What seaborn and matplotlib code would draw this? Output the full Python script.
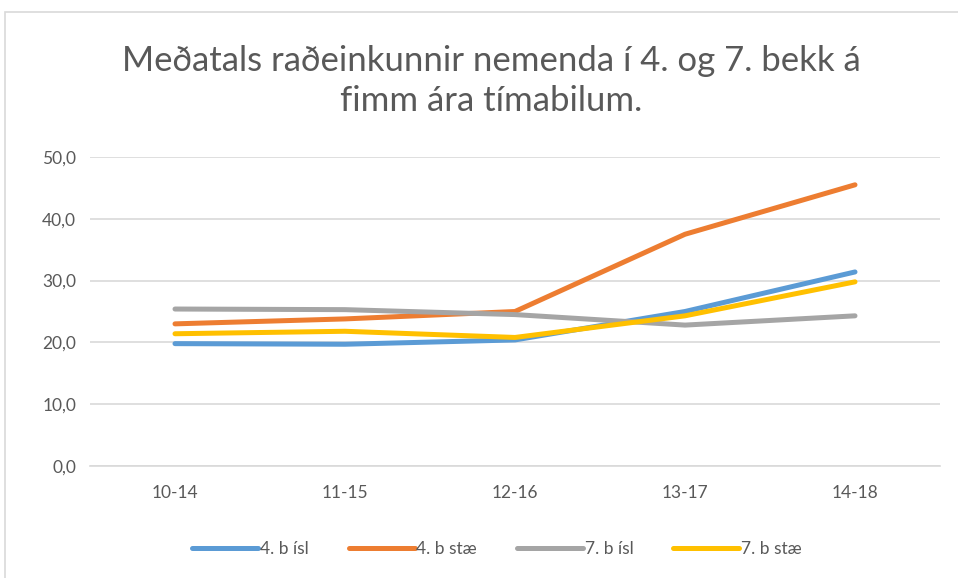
import numpy as np
import pandas as pd
import matplotlib
matplotlib.use("Agg")
import matplotlib.pyplot as plt
from matplotlib.patches import Rectangle
from matplotlib.ticker import FuncFormatter, MultipleLocator
import seaborn as sns

# data
periods = ["10-14", "11-15", "12-16", "13-17", "14-18"]
isl_4 = [19.8, 19.7, 20.4, 25.0, 31.4]
stae_4 = [23.0, 23.8, 25.0, 37.5, 45.5]
isl_7 = [25.4, 25.3, 24.5, 22.8, 24.3]
stae_7 = [21.4, 21.8, 20.8, 24.3, 29.8]
series_names = ["4. b ísl", "4. b stæ", "7. b ísl", "7. b stæ"]
colors = ["#5B9BD5", "#ED7D31", "#A5A5A5", "#FFC000"]

rows = []
for name, vals in zip(series_names, [isl_4, stae_4, isl_7, stae_7]):
    for p, v in zip(periods, vals):
        rows.append({"Tímabil": p, "Einkunn": v, "Hópur": name})
df = pd.DataFrame(rows)

sns.set_style("white")
plt.rcParams["font.family"] = ["Lato", "DejaVu Sans"]
txt = "#595959"

fig = plt.figure(figsize=(9.58, 5.78), dpi=100)
ax = fig.add_axes([90 / 958, 1 - 466 / 578, 850 / 958, 309 / 578])

# chart border like the spreadsheet chart frame
fig.patches.append(Rectangle((5 / 958, -0.05), 1.0, 1 - 12 / 578 + 0.05,
                             transform=fig.transFigure, fill=False,
                             edgecolor="#D9D9D9", linewidth=1.2))

sns.lineplot(data=df, x="Tímabil", y="Einkunn", hue="Hópur", palette=colors,
             linewidth=3.6, sort=False, ax=ax, legend=False,
             solid_capstyle="round")

ax.set_xlim(-0.5, 4.5)
ax.set_ylim(0, 50)
ax.yaxis.set_major_locator(MultipleLocator(10))
ax.yaxis.set_major_formatter(FuncFormatter(lambda v, _: f"{v:.1f}".replace(".", ",")))
ax.grid(axis="y", color="#D9D9D9", linewidth=1.2)
ax.set_axisbelow(True)
for s in ["top", "right", "left"]:
    ax.spines[s].set_visible(False)
ax.spines["bottom"].set_color("#D9D9D9")
ax.spines["bottom"].set_linewidth(1.2)
ax.tick_params(length=0, labelsize=12.5, colors=txt, pad=10)
ax.tick_params(axis="x", pad=14)
ax.set_xlabel("")
ax.set_ylabel("")

fig.text(491 / 958, 1 - 61 / 578, "Meðatals raðeinkunnir nemenda í 4. og 7. bekk á",
         ha="center", va="center", fontsize=25, color=txt)
fig.text(491 / 958, 1 - 101 / 578, "fimm ára tímabilum.",
         ha="center", va="center", fontsize=25, color=txt)

handles = [plt.Line2D([], [], color=c, linewidth=3.6, solid_capstyle="round") for c in colors]
fig.legend(handles, series_names, loc="center", bbox_to_anchor=(497 / 958, 1 - 549 / 578),
           ncol=4, frameon=False, fontsize=12.5, labelcolor=txt, handlelength=3.8,
           handletextpad=0.1, columnspacing=2.3)

fig.savefig("out.png", dpi=100)
